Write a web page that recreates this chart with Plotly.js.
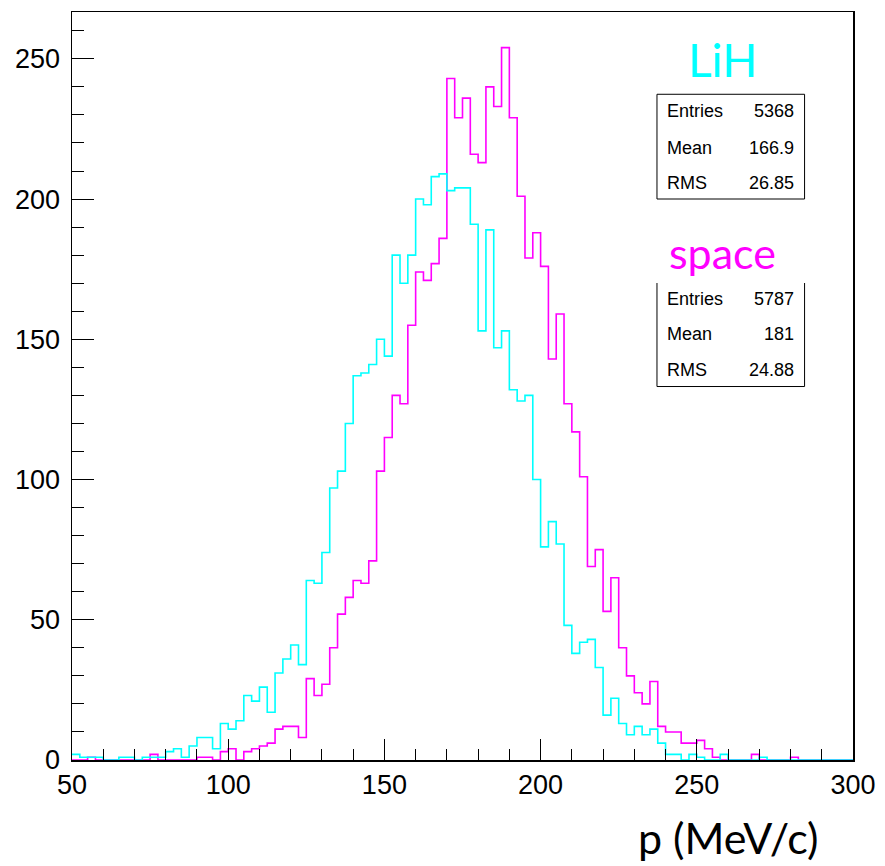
<!DOCTYPE html>
<html>
<head>
<meta charset="utf-8">
<script src="https://cdn.plot.ly/plotly-3.0.1.min.js"></script>
<style>html,body{margin:0;padding:0;background:#fff;}#chart{width:885px;height:866px;}</style>
</head>
<body>
<div id="chart"></div>
<script>
// Histogram binning (100 bins from 50 to 300 MeV/c)
const binStart = 50;
const binWidth = 2.5;

// LiH (cyan) counts per bin
const lihCounts = [
  2,1,1,1,0,0,1,1,0,1,
  1,1,3,4,1,5,8,8,4,13,
  11,14,23,21,26,17,31,36,41,34,
  64,63,74,97,103,120,137,138,141,150,
  144,180,170,180,200,198,208,209,203,204,
  204,191,153,189,147,153,132,128,130,100,
  76,85,77,48,38,42,43,33,16,22,
  13,9,12,9,11,6,2,2,0,2,
  1,0,0,2,0,0,0,0,1,0,
  0,0,0,0,0,0,0,0,0,0
];

// space (magenta) counts per bin
const spaceCounts = [
  0,0,1,0,0,0,0,0,0,0,
  2,0,0,0,0,0,1,1,0,3,
  4,0,3,4,5,6,11,12,12,8,
  29,23,27,40,52,58,64,63,71,103,
  115,130,127,155,174,171,177,186,243,229,
  236,216,213,240,233,254,229,201,179,188,
  176,143,159,127,117,101,69,75,53,65,
  40,30,24,20,28,12,10,10,6,6,
  7,4,1,0,0,0,0,2,0,0,
  0,0,1,0,0,0,0,0,0,0
];

const lihStats = {label: "LiH", entries: "5368", mean: "166.9", rms: "26.85"};
const spaceStats = {label: "space", entries: "5787", mean: "181", rms: "24.88"};
const xTitle = "p (MeV/c)";

function stepTrace(counts, color) {
  const xs = [], ys = [];
  for (let i = 0; i < counts.length; i++) {
    xs.push(binStart + i * binWidth);
    ys.push(counts[i]);
  }
  xs.push(binStart + counts.length * binWidth);
  ys.push(counts[counts.length - 1]);
  return {
    type: 'scatter', mode: 'lines', x: xs, y: ys,
    line: {shape: 'hv', color: color, width: 1.6},
    hoverinfo: 'skip', showlegend: false
  };
}

const tickFont = {family: 'Liberation Sans, Arial, sans-serif', size: 27, color: '#000'};
const statFont = {family: 'Liberation Sans, Arial, sans-serif', size: 18, color: '#000'};
const titleFamily = 'Lato, "Open Sans", sans-serif';

function statAnnots(s, rowsY, color, labelY, labelSize) {
  const a = [];
  a.push({xref:'paper', yref:'paper', x:0.833, y:labelY, text:s.label, showarrow:false,
          xanchor:'center', yanchor:'middle', font:{family:titleFamily, size:labelSize, color:color}});
  const names = ['Entries','Mean','RMS'];
  const vals = [s.entries, s.mean, s.rms];
  for (let i = 0; i < 3; i++) {
    a.push({xref:'paper', yref:'paper', x:0.759, y:rowsY[i], text:names[i], showarrow:false,
            xanchor:'left', yanchor:'middle', font:statFont});
    a.push({xref:'paper', yref:'paper', x:0.927, y:rowsY[i], text:vals[i], showarrow:false,
            xanchor:'right', yanchor:'middle', font:statFont});
  }
  return a;
}

const annotations = []
  .concat(statAnnots(lihStats, [0.868, 0.818, 0.772], '#00FFFF', 0.937, 46))
  .concat(statAnnots(spaceStats, [0.616, 0.5695, 0.5214], '#FF00FF', 0.678, 43));
annotations.push({xref:'paper', yref:'paper', x:0.957, y:-0.103, text:xTitle, showarrow:false,
  xanchor:'right', yanchor:'middle', borderpad:0, font:{family:titleFamily, size:43, color:'#000'}});

const shapes = [
  {type:'rect', xref:'paper', yref:'paper', x0:0.749, x1:0.938, y0:0.750, y1:0.890,
   line:{color:'#000', width:1}, fillcolor:'rgba(0,0,0,0)'},
  {type:'path', xref:'paper', yref:'paper',
   path:'M 0.749 0.6377 L 0.749 0.4993 L 0.938 0.4993 L 0.938 0.6377',
   line:{color:'#000', width:1}}
];

const layout = {
  width: 885, height: 866,
  margin: {l: 72, r: 32, t: 12, b: 106, pad: 0},
  paper_bgcolor: '#fff', plot_bgcolor: '#fff',
  showlegend: false, hovermode: false,
  xaxis: {
    range: [50, 300], dtick: 50, tick0: 50,
    showgrid: false, zeroline: false,
    showline: true, linecolor: '#000', linewidth: 1.5, mirror: true,
    ticks: 'inside', ticklen: 21, tickwidth: 1, tickcolor: '#000',
    minor: {dtick: 10, ticks: 'inside', ticklen: 11, tickwidth: 1, tickcolor: '#000', showgrid: false},
    tickfont: tickFont, ticklabelstandoff: 0
  },
  yaxis: {
    range: [0, 266.7], dtick: 50, tick0: 0,
    showgrid: false, zeroline: false,
    showline: true, linecolor: '#000', linewidth: 1.5, mirror: true,
    ticks: 'inside', ticklen: 22, tickwidth: 1, tickcolor: '#000',
    minor: {dtick: 10, ticks: 'inside', ticklen: 12, tickwidth: 1, tickcolor: '#000', showgrid: false},
    tickfont: tickFont, ticklabelstandoff: 5
  },
  annotations: annotations,
  shapes: shapes
};

Plotly.newPlot('chart', [stepTrace(spaceCounts, '#FF00FF'), stepTrace(lihCounts, '#00FFFF')], layout,
  {staticPlot: true, displayModeBar: false});
</script>
</body>
</html>
